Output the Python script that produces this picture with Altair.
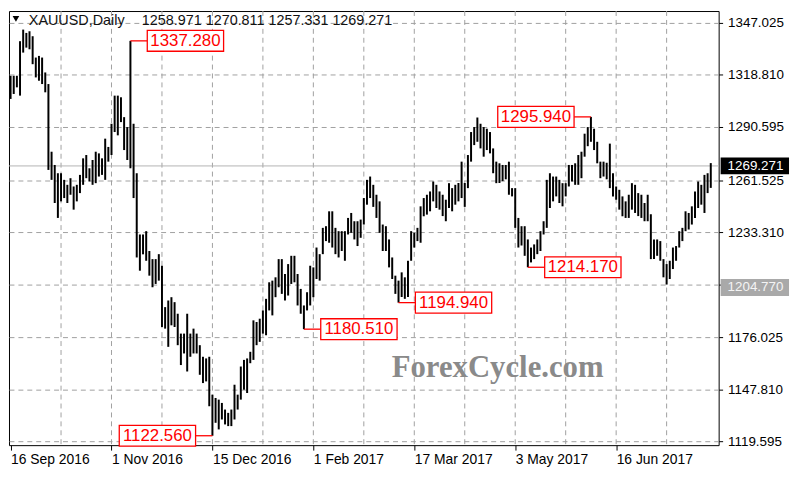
import json
import altair as alt
import pandas as pd

# ---------------- data ----------------
high = [1318.3, 1318.3, 1318.3, 1337.1, 1343.4, 1341.6, 1342.5, 1339.8, 1328.2, 1329.1,
        1328.2, 1320.1, 1313.8, 1277.0, 1269.8, 1265.3, 1265.3, 1261.7, 1259.0, 1262.6,
        1258.1, 1259.0, 1264.4, 1273.4, 1275.2, 1268.0, 1272.5, 1277.0, 1276.1, 1273.4,
        1284.1, 1279.6, 1292.2, 1307.5, 1307.5, 1306.6, 1295.8, 1290.4, 1337.28, 1292.2,
        1265.3, 1232.0, 1232.0, 1233.8, 1223.0, 1218.6, 1218.6, 1221.3, 1215.0, 1192.5,
        1196.1, 1197.9, 1195.2, 1188.9, 1178.1, 1178.1, 1188.9, 1178.1, 1180.8, 1178.1,
        1171.8, 1165.5, 1164.6, 1165.5, 1144.9, 1143.1, 1142.2, 1140.4, 1136.8, 1135.0,
        1136.8, 1150.3, 1144.9, 1160.2, 1163.8, 1164.6, 1168.2, 1185.3, 1184.4, 1186.2,
        1190.7, 1197.0, 1206.0, 1206.9, 1208.7, 1218.6, 1218.6, 1210.5, 1215.9, 1220.4,
        1220.4, 1210.5, 1202.4, 1193.4, 1200.6, 1215.0, 1214.1, 1224.9, 1221.3, 1235.6,
        1236.5, 1244.6, 1244.6, 1235.6, 1233.8, 1233.8, 1233.8, 1241.0, 1243.7, 1239.2,
        1239.2, 1240.1, 1251.8, 1261.7, 1263.5, 1259.0, 1253.6, 1250.0, 1237.4, 1236.5,
        1229.3, 1219.5, 1209.6, 1206.9, 1211.4, 1208.7, 1217.7, 1233.8, 1232.9, 1235.6,
        1247.3, 1251.8, 1253.6, 1255.4, 1260.8, 1259.0, 1255.4, 1253.6, 1250.9, 1259.9,
        1257.2, 1259.0, 1260.0, 1271.6, 1260.0, 1275.2, 1287.7, 1290.4, 1295.6, 1292.2,
        1290.4, 1289.5, 1287.7, 1278.8, 1271.6, 1270.7, 1269.8, 1269.8, 1271.6, 1257.2,
        1257.2, 1241.0, 1236.5, 1236.5, 1229.3, 1224.9, 1226.6, 1229.3, 1233.8, 1239.2,
        1261.7, 1265.3, 1263.5, 1263.5, 1261.7, 1259.9, 1259.9, 1269.8, 1269.8, 1270.7,
        1275.2, 1277.0, 1286.8, 1290.4, 1295.94, 1289.5, 1282.4, 1271.6, 1271.6, 1271.0,
        1281.4, 1265.3, 1258.1, 1256.3, 1252.7, 1250.0, 1253.6, 1259.9, 1259.0, 1254.5,
        1253.6, 1249.1, 1253.6, 1243.0, 1229.3, 1229.3, 1228.4, 1218.6, 1215.9, 1217.7,
        1224.9, 1225.7, 1233.8, 1235.6, 1244.6, 1243.7, 1247.3, 1255.4, 1260.8, 1259.0,
        1264.4, 1265.3, 1270.811]
low = [1305.7, 1308.4, 1312.0, 1307.5, 1330.9, 1333.6, 1332.7, 1324.6, 1317.4, 1315.6,
       1313.8, 1309.3, 1267.1, 1261.7, 1249.1, 1241.0, 1250.0, 1251.8, 1249.1, 1253.6,
       1245.5, 1250.0, 1254.5, 1259.0, 1262.6, 1260.8, 1259.0, 1259.9, 1263.5, 1264.4,
       1261.7, 1271.6, 1275.2, 1287.7, 1285.9, 1293.1, 1277.9, 1272.5, 1268.0, 1251.8,
       1219.5, 1212.3, 1221.2, 1217.7, 1209.6, 1203.3, 1205.1, 1206.9, 1181.7, 1180.8,
       1170.9, 1182.6, 1181.7, 1171.8, 1161.0, 1167.3, 1157.5, 1165.5, 1167.3, 1167.3,
       1155.7, 1151.2, 1152.1, 1138.6, 1122.56, 1129.6, 1126.0, 1131.4, 1128.7, 1127.8,
       1127.8, 1131.4, 1136.8, 1142.2, 1147.6, 1145.8, 1162.0, 1163.8, 1171.8, 1173.6,
       1178.1, 1177.2, 1190.7, 1188.0, 1197.9, 1203.3, 1199.7, 1196.1, 1198.8, 1205.1,
       1206.0, 1193.4, 1188.9, 1180.51, 1190.7, 1193.4, 1197.9, 1207.8, 1206.9, 1221.3,
       1228.4, 1227.5, 1224.9, 1221.3, 1219.5, 1223.0, 1217.7, 1232.0, 1232.9, 1229.3,
       1225.7, 1230.2, 1237.4, 1248.2, 1251.8, 1247.0, 1241.0, 1232.9, 1223.0, 1223.0,
       1214.1, 1207.8, 1199.7, 1194.94, 1198.0, 1197.0, 1198.0, 1217.7, 1224.9, 1228.4,
       1227.5, 1241.9, 1242.8, 1244.6, 1250.0, 1246.4, 1245.5, 1242.0, 1239.2, 1246.4,
       1244.6, 1248.2, 1250.0, 1251.8, 1247.0, 1257.2, 1271.6, 1280.6, 1282.4, 1278.8,
       1274.3, 1277.9, 1276.1, 1265.3, 1259.9, 1260.0, 1261.0, 1262.0, 1253.6, 1252.7,
       1235.6, 1224.9, 1226.0, 1220.4, 1214.17, 1216.8, 1218.6, 1221.3, 1223.0, 1232.0,
       1235.6, 1246.4, 1250.0, 1252.7, 1249.1, 1247.3, 1252.7, 1258.1, 1260.8, 1259.0,
       1259.0, 1262.6, 1274.3, 1280.0, 1282.4, 1277.9, 1270.7, 1262.6, 1263.5, 1262.0,
       1257.2, 1252.7, 1250.9, 1245.5, 1241.9, 1241.0, 1241.0, 1245.5, 1243.7, 1242.0,
       1241.0, 1239.2, 1239.2, 1218.6, 1218.6, 1220.4, 1217.7, 1208.7, 1204.77, 1207.8,
       1213.2, 1217.7, 1224.9, 1228.4, 1233.8, 1234.7, 1237.4, 1241.0, 1246.4, 1248.2,
       1243.7, 1254.5, 1257.331]

date_tick_idx = [0, 32, 64, 96, 128, 160, 192]
date_tick_labels = ["16 Sep 2016", "1 Nov 2016", "15 Dec 2016", "1 Feb 2017",
                    "17 Mar 2017", "3 May 2017", "16 Jun 2017"]
grid_idx = [16, 32, 48, 64, 80, 96, 112, 128, 144, 160, 176, 192, 208]
price_ticks = [1119.595, 1147.810, 1176.025, 1204.770, 1233.310, 1261.525,
               1290.595, 1318.810, 1347.025]

ann_idx = [38, 64, 93, 123, 164, 184]
ann_price = [1337.280, 1122.560, 1180.510, 1194.940, 1214.170, 1295.940]
ann_side = ["right", "left", "right", "right", "right", "left"]

last_price = 1269.271
line_level = 1204.770
symbol_name = "XAUUSD,Daily"
header_values = ["1258.971", "1270.811", "1257.331", "1269.271"]
watermark = "ForexCycle.com"

# ---------------- styling ----------------
W, H = 716, 438
RED = "#ff0000"
GRID = "#a0a0a0"
FONT = "Liberation Sans"
GAP = 17          # connector length, px
BOXW, BOXH = 77, 21

xs = alt.Scale(domain=[-0.5, 224.5], nice=False, zero=False)
ys = alt.Scale(domain=[1117.44, 1353.5], nice=False, zero=False)

label_expr = (f"{json.dumps(date_tick_labels)}"
              f"[indexof({json.dumps(date_tick_idx)}, datum.value)]")
xaxis = alt.Axis(values=date_tick_idx, labelExpr=label_expr, grid=False, domain=False,
                 tickSize=5, tickColor="black", labelAlign="left", labelBaseline="top",
                 labelPadding=3, labelFont=FONT, labelFontSize=14, labelColor="black",
                 labelFlush=False, labelOverlap=False, title=None)
yaxis = alt.Axis(orient="right", values=price_ticks,
                 labelExpr=f"datum.value == {line_level} ? '' : format(datum.value, '.3f')",
                 grid=True, gridColor=GRID, gridDash=[5, 4], gridWidth=1, domain=False,
                 tickSize=4, tickColor="black", labelPadding=5, labelFont=FONT,
                 labelFontSize=13.5, labelColor="black", labelFlush=False,
                 labelOverlap=False, title=None)


def X(field="i"):
    return alt.X(f"{field}:Q", scale=xs, axis=xaxis)


def Y(field="y"):
    return alt.Y(f"{field}:Q", scale=ys, axis=yaxis)


bars_df = pd.DataFrame({"i": list(range(len(high))), "y": low, "y2": high})
grid_df = pd.DataFrame({"i": grid_idx})
ann_df = pd.DataFrame({"i": ann_idx, "y": ann_price, "side": ann_side})
ann_df["label"] = ann_df["y"].map(lambda v: f"{v:.3f}")
last_df = pd.DataFrame({"y": [last_price], "label": [f"{last_price:.3f}"]})
level_df = pd.DataFrame({"y": [line_level], "label": [f"{line_level:.3f}"]})
one = pd.DataFrame({"a": [0]})

vgrid = alt.Chart(grid_df).mark_rule(color=GRID, strokeDash=[5, 4], strokeWidth=1).encode(x=X())

bid_line = alt.Chart(last_df).mark_rule(color="#b4b4b4", strokeWidth=1).encode(y=Y())

bars = alt.Chart(bars_df).mark_rule(color="black", strokeWidth=2).encode(
    x=X(), y=Y(), y2="y2:Q")

box_path = f"M-1,-{BOXH / BOXW:.4f}H1V{BOXH / BOXW:.4f}H-1Z"
ann_layers = []
for side, s in (("right", 1), ("left", -1)):
    base = alt.Chart(ann_df).transform_filter(alt.datum.side == side)
    off = s * (GAP + BOXW / 2)
    ann_layers.append(base.mark_point(
        shape="M0,0H1" if s > 0 else "M0,0H-1", size=(2 * GAP) ** 2, filled=False,
        color=RED, strokeWidth=1.3, opacity=1).encode(x=X(), y=Y()))
    ann_layers.append(base.mark_point(
        shape=box_path, size=BOXW ** 2, filled=True, fill="white", stroke=RED,
        strokeWidth=1.3, opacity=1, xOffset=off).encode(x=X(), y=Y()))
    ann_layers.append(base.mark_text(
        dx=off, align="center", baseline="middle", font=FONT, fontSize=17,
        color=RED).encode(x=X(), y=Y(), text="label:N"))

# price labels on the right-hand scale
rbox_w, rbox_h = 67, 15
rbox_path = f"M-1,-{rbox_h / rbox_w:.4f}H1V{rbox_h / rbox_w:.4f}H-1Z"
last_box = alt.Chart(last_df).mark_point(
    shape=rbox_path, size=rbox_w ** 2, filled=True, fill="black", stroke="black",
    opacity=1).encode(x=alt.value(W + 36.5), y=Y())
last_txt = alt.Chart(last_df).mark_text(
    align="left", baseline="middle", font=FONT, fontSize=13.5, color="white").encode(
    x=alt.value(W + 9), y=Y(), text="label:N")
lvl_box = alt.Chart(level_df).mark_point(
    shape=rbox_path, size=rbox_w ** 2, filled=True, fill="#a9a9a9", stroke="#a9a9a9",
    opacity=1, yOffset=3).encode(x=alt.value(W + 36.5), y=Y())
lvl_txt = alt.Chart(level_df).mark_text(
    align="left", baseline="middle", font=FONT, fontSize=13.5, color="#f4f4f4",
    dy=3).encode(x=alt.value(W + 9), y=Y(), text="label:N")

# header and watermark
tri = alt.Chart(one).mark_point(shape="triangle-down", filled=True, color="black",
                                size=45, opacity=1).encode(x=alt.value(7), y=alt.value(8))
head1 = alt.Chart(one).mark_text(align="left", baseline="alphabetic", font=FONT,
                                 fontSize=14.5, color="#111111").encode(
    x=alt.value(20), y=alt.value(13.7), text=alt.value(symbol_name))
head2 = alt.Chart(one).mark_text(align="left", baseline="alphabetic", font=FONT,
                                 fontSize=14.5, color="#111111").encode(
    x=alt.value(134), y=alt.value(13.7), text=alt.value(" ".join(header_values)))
wm = alt.Chart(one).mark_text(align="center", baseline="alphabetic",
                              font="Liberation Serif", fontWeight="bold", fontSize=31,
                              color="#8a8a8a").encode(
    x=alt.value(493), y=alt.value(369), text=alt.value(watermark))

chart = alt.layer(
    vgrid, bid_line, wm, bars, *ann_layers, last_box, last_txt, lvl_box, lvl_txt,
    tri, head1, head2
).properties(
    width=W, height=H, padding=0, background="white"
).configure_view(stroke="black", strokeWidth=1)

chart.save("out.html", embed_options={"renderer": "svg", "actions": False})
